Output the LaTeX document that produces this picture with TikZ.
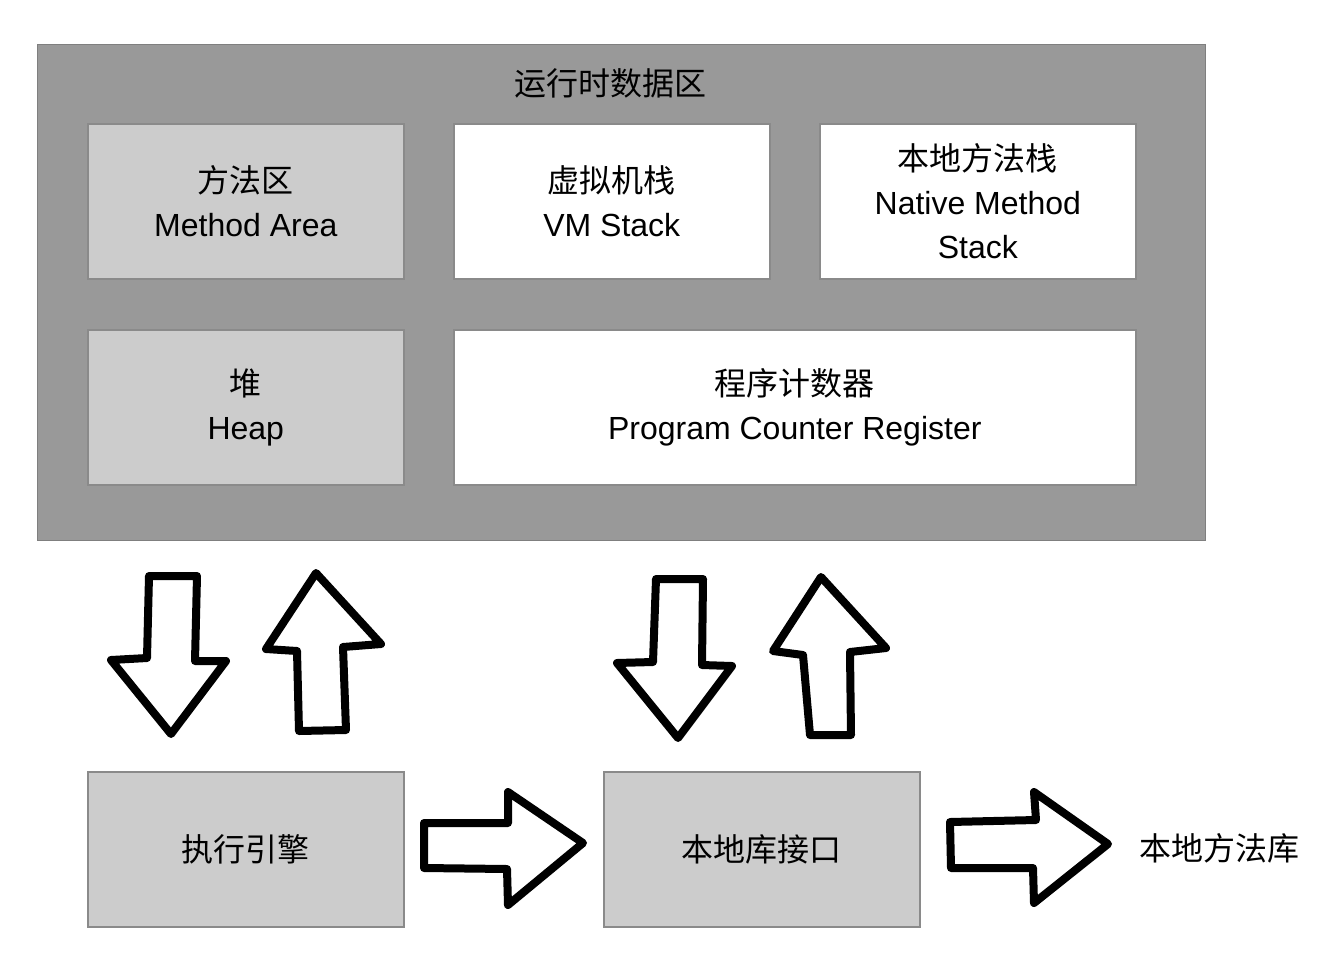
\documentclass[tikz,border=0pt]{standalone}
\usepackage{fontspec}
\setmainfont{Liberation Sans}
\newfontfamily\cjk{Noto Sans CJK SC}
\definecolor{outerfill}{HTML}{999999}
\definecolor{outerline}{HTML}{7F7F7F}
\definecolor{lightfill}{HTML}{CCCCCC}
\definecolor{boxline}{HTML}{8A8A8A}
\begin{document}
\begin{tikzpicture}[x=1pt,y=-1pt,
  box/.style={draw=boxline,line width=1.6pt,minimum width=316pt,minimum height=155pt,
    align=center,inner sep=0pt,anchor=north west,font=\fontsize{32}{44}\selectfont},
  greybox/.style={box,fill=lightfill},
  whitebox/.style={box,fill=white},
  blockarrow/.style={draw=black,line width=8pt,line join=round,fill=white}]
\useasboundingbox (0,0) rectangle (1330,956);
\node[draw=outerline,line width=1.2pt,fill=outerfill,minimum width=1168pt,minimum height=496pt,anchor=north west,inner sep=0pt] (outer) at (37,44) {};
\node[font=\fontsize{32}{44}\selectfont\cjk] (title) at (610,83) {运行时数据区};
\node[greybox] (method) at (87,123) {{\cjk 方法区}\\Method Area};
\node[whitebox] (vm) at (453,123) {{\cjk 虚拟机栈}\\VM Stack};
\node[whitebox] (native) at (819,123) {{\cjk 本地方法栈}\\Native Method\\Stack};
\node[greybox] (heap) at (87,329) {{\cjk 堆}\\Heap};
\node[whitebox,minimum width=682pt] (pc) at (453,329) {{\cjk 程序计数器}\\Program Counter Register};
\node[greybox,font=\fontsize{32}{44}\selectfont\cjk] (engine) at (87,771) {执行引擎};
\node[greybox,font=\fontsize{32}{44}\selectfont\cjk] (iface) at (603,771) {本地库接口};
\node[font=\fontsize{32}{44}\selectfont\cjk] (lib) at (1219,848) {本地方法库};
% block arrows
\draw[blockarrow] (149,576) -- (197,576) -- (195,661) -- (226,661) -- (171,734) -- (111,660) -- (147,658) -- cycle;
\draw[blockarrow] (316,573) -- (381,644) -- (343,647) -- (346,730) -- (299,731) -- (297,651) -- (266,649) -- cycle;
\draw[blockarrow] (656,579) -- (703,579) -- (702,665) -- (732,666) -- (678,738) -- (617,663) -- (653,662) -- cycle;
\draw[blockarrow] (821,577) -- (886,648) -- (850,652) -- (851,735) -- (810,735) -- (803,655) -- (773,651) -- cycle;
\draw[blockarrow] (424,823) -- (508,823) -- (508,792) -- (583,843) -- (508,905) -- (507,869) -- (424,868) -- cycle;
\draw[blockarrow] (950,822) -- (1036,820) -- (1034,792) -- (1108,844) -- (1034,903) -- (1033,868) -- (951,868) -- cycle;
\end{tikzpicture}
\end{document}
